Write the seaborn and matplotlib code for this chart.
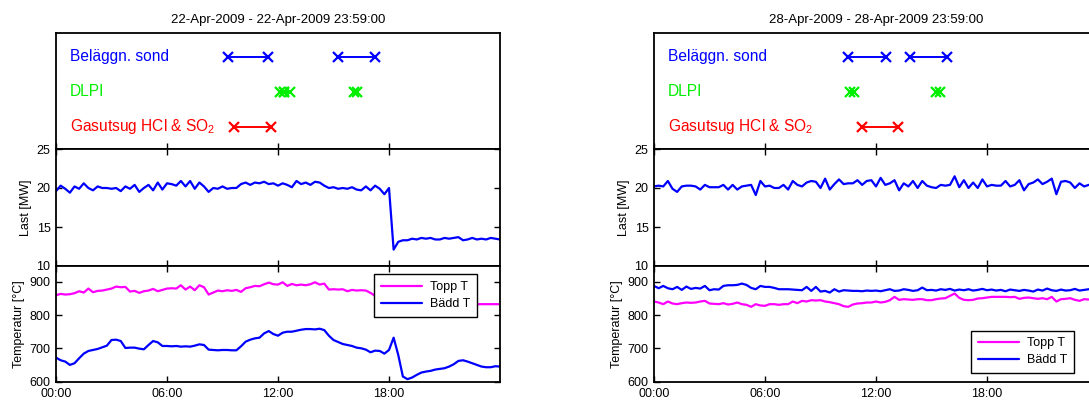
import numpy as np
import matplotlib
matplotlib.use("Agg")
import matplotlib.pyplot as plt
import seaborn as sns

# ---------------- data ----------------
hours = np.arange(97) * 0.25  # 15-min samples, 00:00 .. 24:00

left_title = "22-Apr-2009 - 22-Apr-2009 23:59:00"
right_title = "28-Apr-2009 - 28-Apr-2009 23:59:00"

left_last = [19.6, 20.3, 19.9, 19.4, 20.2, 19.9, 20.6, 20.0, 19.7, 20.2,
             20.0, 20.0, 19.9, 20.0, 19.6, 20.2, 19.9, 20.4, 19.5, 20.0,
             20.4, 19.7, 20.7, 19.8, 20.6, 20.5, 20.3, 20.9, 20.2, 20.9,
             19.9, 20.7, 20.2, 19.5, 20.0, 19.9, 20.2, 19.9, 20.0, 20.0,
             20.5, 20.7, 20.4, 20.7, 20.6, 20.8, 20.5, 20.6, 20.3, 20.6,
             20.4, 20.1, 20.9, 20.5, 20.7, 20.4, 20.8, 20.7, 20.3, 20.0,
             20.1, 19.9, 20.0, 19.9, 20.1, 19.8, 19.7, 20.2, 19.7, 20.3,
             19.9, 19.2, 20.0, 12.1, 13.1, 13.3, 13.3, 13.5, 13.4, 13.6,
             13.5, 13.6, 13.4, 13.4, 13.6, 13.5, 13.6, 13.7, 13.3, 13.4,
             13.6, 13.4, 13.5, 13.4, 13.6, 13.5, 13.4]

left_topp = [860, 864, 862, 863, 866, 872, 868, 880, 869, 873,
             874, 877, 880, 886, 884, 885, 871, 873, 867, 872,
             874, 879, 872, 876, 880, 881, 880, 890, 877, 886,
             875, 890, 884, 862, 868, 874, 872, 875, 873, 876,
             870, 881, 884, 888, 887, 893, 898, 893, 892, 899,
             888, 894, 890, 892, 890, 893, 899, 892, 895, 877,
             878, 877, 878, 872, 876, 874, 875, 874, 867, 858,
             833, 833, 833, 833, 833, 833, 833, 833, 833, 833,
             833, 833, 833, 833, 833, 833, 833, 833, 833, 833,
             833, 833, 833, 833, 833, 833, 833]

left_badd = [672, 664, 660, 650, 655, 670, 684, 692, 695, 698,
             703, 708, 725, 726, 722, 701, 702, 702, 699, 697,
             710, 722, 718, 707, 707, 706, 707, 705, 706, 705,
             708, 712, 710, 696, 695, 694, 695, 695, 694, 694,
             706, 720, 726, 730, 732, 745, 752, 743, 738, 747,
             750, 750, 753, 756, 758, 758, 757, 759, 755, 738,
             725, 719, 713, 710, 707, 702, 700, 696, 688, 693,
             692, 684, 695, 732, 680, 615, 607, 612, 620, 627,
             630, 632, 636, 638, 640, 645, 652, 662, 664, 660,
             655, 650, 645, 643, 643, 646, 645]

right_last = [20.2, 20.3, 20.2, 20.9, 19.9, 19.5, 20.2, 20.3, 20.3, 20.2,
              19.8, 20.4, 20.1, 20.1, 20.1, 20.4, 19.8, 20.4, 19.8, 20.2,
              20.3, 20.4, 19.1, 20.9, 20.2, 20.3, 20.0, 20.0, 20.4, 19.8,
              20.9, 20.4, 20.2, 20.7, 20.9, 20.8, 20.0, 21.2, 19.8, 20.5,
              21.1, 20.5, 20.6, 20.6, 21.0, 20.4, 20.9, 21.0, 20.2, 21.3,
              20.4, 20.6, 21.0, 19.7, 20.6, 20.2, 20.9, 20.0, 20.9, 20.3,
              20.1, 20.0, 20.4, 20.3, 20.4, 21.5, 20.1, 21.0, 20.0, 20.7,
              20.0, 21.1, 20.2, 20.4, 20.3, 20.3, 20.9, 20.2, 20.4, 21.0,
              19.7, 20.5, 20.7, 21.1, 20.5, 20.8, 21.2, 19.2, 20.8, 20.9,
              20.7, 20.0, 20.6, 20.2, 20.4, 20.3, 20.5]

right_topp = [841, 838, 833, 841, 835, 833, 836, 838, 837, 838,
              841, 843, 835, 834, 833, 836, 832, 834, 838, 833,
              831, 825, 833, 829, 828, 833, 833, 831, 833, 833,
              841, 836, 843, 841, 845, 844, 845, 841, 839, 836,
              833, 827, 825, 832, 835, 836, 838, 838, 841, 838,
              840, 845, 855, 846, 848, 847, 846, 848, 848, 845,
              845, 848, 850, 851, 858, 865, 852, 846, 845, 846,
              850, 851, 853, 855, 855, 855, 855, 854, 855, 849,
              852, 853, 851, 849, 851, 848, 855, 841, 848, 849,
              851, 846, 843, 848, 847, 849, 848]

right_badd = [888, 881, 888, 881, 878, 885, 876, 886, 879, 882,
              880, 888, 875, 878, 877, 888, 890, 890, 891, 895,
              891, 882, 878, 888, 885, 885, 882, 878, 878, 878,
              877, 876, 875, 885, 873, 885, 871, 873, 868, 878,
              871, 875, 874, 873, 873, 872, 874, 873, 874, 872,
              875, 878, 873, 874, 878, 876, 873, 875, 883, 875,
              876, 874, 878, 876, 879, 874, 877, 875, 878, 874,
              876, 879, 875, 877, 874, 876, 872, 877, 875, 873,
              876, 874, 871, 877, 874, 880, 875, 873, 877, 874,
              875, 879, 874, 876, 878, 880, 877]

# event intervals (start hour, end hour)
left_sond = [(9.31, 11.48), (15.26, 17.24)]
left_dlpi = [(12.1, 12.35), (12.35, 12.65), (16.1, 16.25)]
left_gas = [(9.64, 11.6)]
right_sond = [(10.5, 12.52), (13.84, 15.82)]
right_dlpi = [(10.6, 10.8), (15.25, 15.45)]
right_gas = [(11.22, 13.2)]

event_labels = ["Beläggn. sond", "DLPI", r"Gasutsug HCl & SO$_\mathregular{2}$"]
event_colors = ["#0000ff", "#00ee00", "#ff0000"]
event_rows = [3, 2, 1]

xtick_pos = [0, 6, 12, 18]
xtick_labels = ["00:00", "06:00", "12:00", "18:00"]
last_ticks = [10, 15, 20, 25]
temp_ticks = [600, 700, 800, 900]

# ---------------- style ----------------
sns.set_theme(style="white")
plt.rcParams['font.family'] = ['Liberation Sans', 'DejaVu Sans']
plt.rcParams['mathtext.fontset'] = 'custom'
plt.rcParams['mathtext.rm'] = 'Liberation Sans'
plt.rcParams['mathtext.it'] = 'Liberation Sans:italic'
plt.rcParams['mathtext.bf'] = 'Liberation Sans:bold'

fig = plt.figure(figsize=(10.89, 4.01), dpi=100)

W = 444 / 1089
H_top, B_top = 116 / 401, (401 - 149) / 401
H_mid, B_mid = 117 / 401, (401 - 266) / 401
H_bot, B_bot = 115.5 / 401, (401 - 381.5) / 401


def style_axis(ax):
    for sp in ax.spines.values():
        sp.set_color("black")
        sp.set_linewidth(1.3)
        sp.set_visible(True)
    ax.tick_params(direction="in", length=4, width=1.0, colors="black",
                   labelsize=9, top=True, bottom=True, left=True, right=True,
                   labelcolor="black")
    ax.tick_params(axis="y", pad=4)
    ax.tick_params(axis="x", pad=4.6)
    ax.set_xlim(0, 24)
    ax.set_xticks(xtick_pos)
    ax.grid(False)
    ax.set_facecolor("white")


def draw_column(x0, title, sond, dlpi, gas, last, topp, badd, legend_loc, legend_anchor):
    ax1 = fig.add_axes([x0, B_top, W, H_top])
    ax2 = fig.add_axes([x0, B_mid, W, H_mid])
    ax3 = fig.add_axes([x0, B_bot, W, H_bot])
    for ax in (ax1, ax2, ax3):
        style_axis(ax)

    # --- events panel ---
    for events, color, row, label in zip((sond, dlpi, gas), event_colors,
                                         event_rows, event_labels):
        for (a, b) in events:
            sns.lineplot(x=[a, b], y=[row, row], ax=ax1, color=color,
                         linewidth=1.4, marker="x", markersize=7,
                         markeredgewidth=1.6, markeredgecolor=color,
                         legend=False, estimator=None, sort=False)
        ax1.text(0.75, row, label, color=color, fontsize=11.2, va="center",
                 ha="left")
    ax1.set_ylim(0.37, 3.68)
    ax1.set_yticks([])
    ax1.set_ylabel("")
    ax1.set_xlabel("")
    ax1.tick_params(top=False, left=False, right=False, labelbottom=False)
    ax1.set_title(title, fontsize=9.5, pad=7.5, color="black")

    # --- load panel ---
    sns.lineplot(x=hours, y=last, ax=ax2, color="#0000ff", linewidth=1.6,
                 legend=False)
    ax2.set_ylim(10, 25)
    ax2.set_yticks(last_ticks)
    ax2.set_yticklabels([str(t) for t in last_ticks])
    ax2.tick_params(labelbottom=False)
    ax2.set_xlabel("")
    ax2.set_ylabel("Last [MW]", fontsize=9, color="black", labelpad=3.5)

    # --- temperature panel ---
    sns.lineplot(x=hours, y=topp, ax=ax3, color="#ff00ff", linewidth=1.6,
                 label="Topp T")
    sns.lineplot(x=hours, y=badd, ax=ax3, color="#0000ff", linewidth=1.6,
                 label="Bädd T")
    ax3.set_ylim(600, 948)
    ax3.set_yticks(temp_ticks)
    ax3.set_yticklabels([str(t) for t in temp_ticks])
    ax3.set_xticklabels(xtick_labels)
    ax3.set_xlabel("")
    ax3.set_ylabel("Temperatur [°C]", fontsize=9, color="black", labelpad=3.5)
    leg = ax3.legend(loc=legend_loc, bbox_to_anchor=legend_anchor,
                     borderaxespad=0, fontsize=9, frameon=True, fancybox=False,
                     handlelength=3.3, borderpad=0.55, labelspacing=0.4,
                     handletextpad=0.6)
    leg.get_frame().set_edgecolor("black")
    leg.get_frame().set_linewidth(1.0)
    leg.get_frame().set_alpha(1.0)
    for t in leg.get_texts():
        t.set_color("black")


draw_column(56 / 1089, left_title, left_sond, left_dlpi, left_gas,
            left_last, left_topp, left_badd, "upper right", (0.9475, 0.93))
draw_column(654 / 1089, right_title, right_sond, right_dlpi, right_gas,
            right_last, right_topp, right_badd, "lower right", (0.946, 0.071))

fig.savefig("out.png", dpi=100, facecolor="white")
